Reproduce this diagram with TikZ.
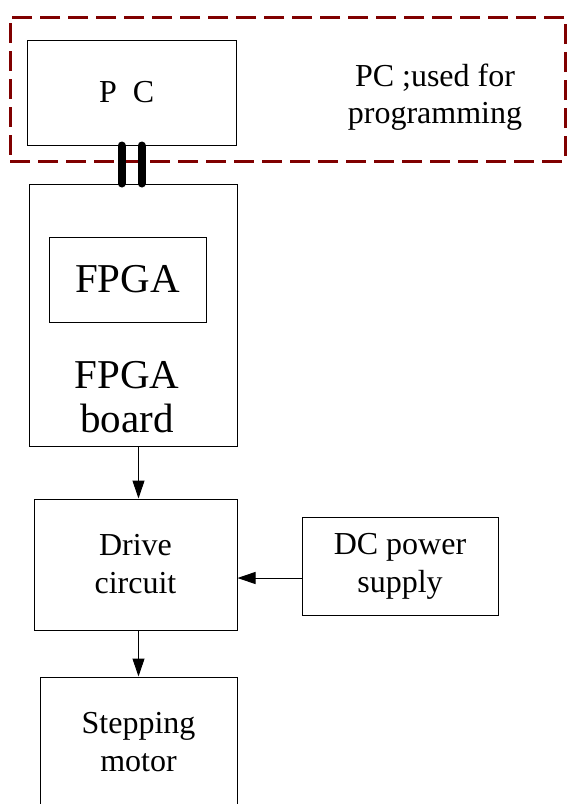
\documentclass[tikz,border=0pt]{standalone}
\usepackage{fontspec}
\setmainfont{Liberation Serif}
\usepackage{xcolor}
\usepackage{tikz}
\usetikzlibrary{positioning}
\usetikzlibrary{arrows.meta}
\definecolor{granate}{RGB}{128,0,0}

\begin{document}
\begin{tikzpicture}[x=1pt, y=-1pt,
        box/.style={draw, line width=1pt, align=center, inner sep=0pt,
            font=\fontsize{32}{38}\selectfont},
        bigtext/.style={align=center, inner sep=0pt, font=\fontsize{41}{44}\selectfont},
        flow/.style={line width=1pt, -{Triangle[length=18pt, width=12pt]}},
        cable/.style={line width=8pt, line cap=round},
        grupo/.style={draw=granate, line width=3pt, dash pattern=on 20pt off 8pt}]
        \useasboundingbox (0,0) rectangle (567,804);

        % Zona del PC
        \node[grupo, minimum width=555pt, minimum height=144pt] (pcgroup) at (287.5,89) {};
        \node[box, minimum width=209pt, minimum height=105pt] (pc) at (131.5,92.5)
            {P\hspace{0.5em}C\hspace{0.3em}};
        \node[align=center, inner sep=0pt, font=\fontsize{32}{37}\selectfont] (pcnote) at (435,97)
            {PC ;used for\\programming};

        % Placa FPGA
        \node[box, minimum width=208pt, minimum height=262pt] (board) at (133,315) {};
        \node[box, bigtext, draw, minimum width=157pt, minimum height=85pt] (fpga) at (127.5,279.5) {FPGA};
        \node[bigtext] (boardlabel) at (127,397) {FPGA\\board};

        % Cable de programación
        \foreach \dx in {-10,10} {
            \draw[cable] ([xshift=\dx pt]pc.south) -- ([xshift=\dx pt]pc.south |- board.north);
        }

        % Etapa de potencia
        \node[box, minimum width=203pt, minimum height=131pt] (drive) at (135.5,564.5) {Drive\\circuit};
        \node[box, minimum width=196pt, minimum height=98pt] (dcps) at (400,566) {DC power\\supply};
        \node[box, minimum width=197pt, minimum height=130pt] (motor) at (138.5,742) {Stepping\\motor};

        % Flechas
        \draw[flow] (board.south -| motor.north) -- (drive.north -| motor.north);
        \draw[flow] (drive.south -| motor.north) -- (motor.north);
        \draw[flow] ([yshift=-12pt]dcps.west) -- ([yshift=-12pt]dcps.west -| drive.east);

    \end{tikzpicture}
\end{document}
